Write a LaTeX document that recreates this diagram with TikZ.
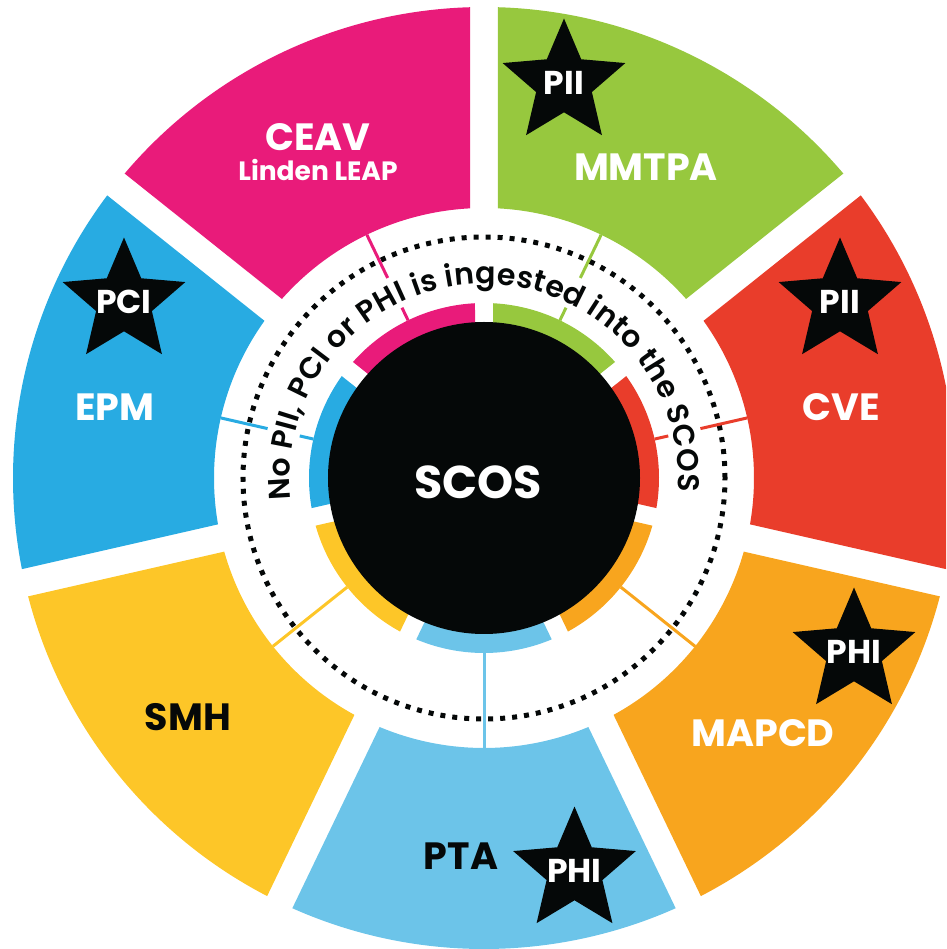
\documentclass[tikz,border=0pt]{standalone}
\usepackage{fontspec}
\setmainfont{Poppins}
\IfFontExistsTF{Poppins SemiBold}{\newfontfamily\arcfam{Poppins SemiBold}}{\newcommand\arcfam{\bfseries}}
\usetikzlibrary{shapes.geometric,decorations.text}
\definecolor{cpink}{HTML}{E91B7A}
\definecolor{cgreen}{HTML}{97C83E}
\definecolor{cred}{HTML}{E93D2B}
\definecolor{corange}{HTML}{F8A51E}
\definecolor{cltblue}{HTML}{6CC4E9}
\definecolor{cyellow}{HTML}{FDC628}
\definecolor{cblue}{HTML}{28ABE2}
\definecolor{cblack}{HTML}{050808}
\newcommand\mkarcfont{\fontsize{30}{30}\selectfont\arcfam}
\begin{document}
\begin{tikzpicture}[x=1pt,y=1pt,
  lab/.style={font=\fontsize{38}{38}\selectfont\bfseries, text=white, inner sep=0pt},
  darklab/.style={lab, text=cblack},
  sublab/.style={font=\fontsize{26.5}{26.5}\selectfont\bfseries, text=white, inner sep=0pt},
  starbox/.style={star, star points=5, star point ratio=2.2, fill=cblack, minimum size=129pt, inner sep=0pt},
  startext/.style={font=\fontsize{33}{33}\selectfont\bfseries, text=white, inner sep=0pt},
  conn/.style={line width=3pt}]
\useasboundingbox (-484,-471) rectangle (462,478);
\clip (-484,-471) rectangle (462,478);
% outer sectors and inner arcs
\foreach \i/\col in {0/cpink,1/cblue,2/cyellow,3/cltblue,4/corange,5/cred,6/cgreen} {
  \pgfmathsetmacro\aa{90+\i*360/7}
  \pgfmathsetmacro\ab{\aa+360/7}
  \pgfmathsetmacro\am{\aa+180/7}
  \fill[\col] (\aa+1.70:471) arc[start angle=\aa+1.70, end angle=\ab-1.70, radius=471]
     -- (\ab-2.97:270) arc[start angle=\ab-2.97, end angle=\aa+2.97, radius=270] -- cycle;
  \fill[\col] (\aa+2.95:175) arc[start angle=\aa+2.95, end angle=\ab-2.95, radius=175]
     -- (\ab-3.44:150) arc[start angle=\ab-3.44, end angle=\aa+3.44, radius=150] -- cycle;
  \coordinate (ci\i) at (\am:175);
  \coordinate (ca\i) at (\am:189);
  \coordinate (cb\i) at (\am:222);
  \coordinate (co\i) at (\am:270);
}
% dotted circle
\draw[cblack, line width=5pt, dash pattern=on 5pt off 7pt] (0,0) circle[radius=241];
% connectors
\draw[conn, cpink] (ci0) -- (ca0) (cb0) -- (co0);
\draw[conn, cblue] (ci1) -- (ca1) (cb1) -- (co1);
\draw[conn, cyellow] (ci2) -- (co2);
\draw[conn, cltblue] (ci3) -- (co3);
\draw[conn, corange] (ci4) -- (co4);
\draw[conn, cred] (ci5) -- (ca5) (cb5) -- (co5);
\draw[conn, cgreen] (ci6) -- (ca6) (cb6) -- (co6);
% centre
\fill[cblack] (0,0) circle[radius=156];
\node[lab, font=\fontsize{46}{46}\selectfont\bfseries] (scos) at (-6,-4) {SCOS};
% curved text
\path[decorate, decoration={text along path, text color=cblack, text align=fit to path,
   text={|\mkarcfont|No PII, PCI or PHI is ingested into the SCOS}}]
   (186.5:194) arc[start angle=186.5, end angle=-4.1, radius=194];
% labels
\node[lab] (ceav) at (-166,341) {CEAV};
\node[sublab] (linden) at (-166,308) {Linden LEAP};
\node[lab] (mmtpa) at (162,311) {MMTPA};
\node[lab] (cve) at (357,71) {CVE};
\node[lab] (epm) at (-369,71) {EPM};
\node[darklab] (smh) at (-296,-239) {SMH};
\node[lab] (mapcd) at (279,-255) {MAPCD};
\node[darklab] (pta) at (-23,-378) {PTA};
% stars
\node[starbox] (s1) at (80,395) {};
\node[startext] at (s1.center) {PII};
\node[starbox] (s2) at (356,176) {};
\node[startext] at (s2.center) {PII};
\node[starbox] (s3) at (-360,176) {};
\node[startext] at (s3.center) {PCI};
\node[starbox] (s4) at (370,-174) {};
\node[startext] at (s4.center) {PHI};
\node[starbox] (s5) at (90.5,-393) {};
\node[startext] at (s5.center) {PHI};
\end{tikzpicture}
\end{document}
